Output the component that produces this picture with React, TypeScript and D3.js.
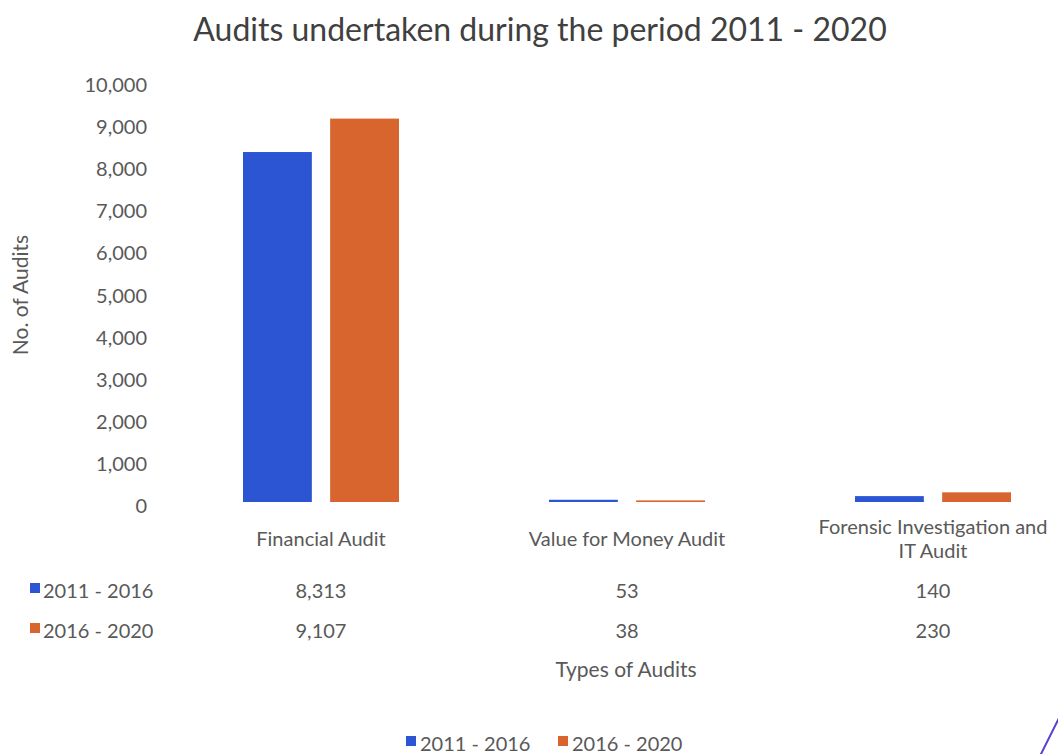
import React from "react";
import * as d3 from "d3";

const categories = ["Financial Audit", "Value for Money Audit", "Forensic Investigation and IT Audit"];
const categoryLines = [["Financial Audit"], ["Value for Money Audit"], ["Forensic Investigation and", "IT Audit"]];
const seriesNames = ["2011 - 2016", "2016 - 2020"];
const series2011 = [8313, 53, 140];
const series2016 = [9107, 38, 230];
const yTicks = [0, 1000, 2000, 3000, 4000, 5000, 6000, 7000, 8000, 9000, 10000];
const colors = ["#2c55d4", "#d9652e"];

const W = 1058;
const H = 754;
const FONT = "Lato, 'Open Sans', sans-serif";
const TEXT = "#595959";

export default function App() {
  const x = d3.scaleBand<string>().domain(categories).range([168, 1086]).paddingInner(0).paddingOuter(0);
  const x1 = d3.scaleBand<string>().domain(seriesNames).range([0, 156]).paddingInner(0.21).paddingOuter(0);
  const y = d3.scaleLinear().domain([0, 10000]).range([502, 81]);
  const fmt = d3.format(",");
  const allSeries = [series2011, series2016];
  const groupOffset = (x.bandwidth() - 156) / 2;

  return (
    <div style={{ position: "fixed", left: 0, top: 0, width: W, height: H, overflow: "hidden" }}>
      <svg width={W} height={H} style={{ display: "block", background: "#fff" }} fontFamily={FONT}>
        <text x={540} y={28} textAnchor="middle" dominantBaseline="central" fontSize={32} fill="#404040">
          Audits undertaken during the period 2011 - 2020
        </text>
        {yTicks.map((t) => (
          <text key={t} x={147} y={y(t) + 3} textAnchor="end" dominantBaseline="central" fontSize={20} fill={TEXT}>
            {fmt(t)}
          </text>
        ))}
        <text
          transform={`translate(19,295) rotate(-90)`}
          textAnchor="middle"
          dominantBaseline="central"
          fontSize={21}
          fill={TEXT}
        >
          No. of Audits
        </text>
        {categories.map((c, ci) =>
          allSeries.map((s, si) => (
            <rect
              key={c + si}
              x={(x(c) as number) + groupOffset + (x1(seriesNames[si]) as number)}
              y={y(s[ci])}
              width={x1.bandwidth()}
              height={y(0) - y(s[ci])}
              fill={colors[si]}
            />
          ))
        )}
        {categories.map((c, ci) => {
          const cx = (x(c) as number) + x.bandwidth() / 2;
          const lines = categoryLines[ci];
          const startY = lines.length === 1 ? 538 : 526;
          return lines.map((l, li) => (
            <text key={c + li} x={cx} y={startY + li * 24} textAnchor="middle" dominantBaseline="central" fontSize={20} fill={TEXT}>
              {l}
            </text>
          ));
        })}
        {seriesNames.map((n, si) => {
          const rowY = 590 + si * 40;
          return (
            <g key={n}>
              <rect x={30} y={rowY - 7} width={10} height={10} fill={colors[si]} />
              <text x={43} y={rowY} dominantBaseline="central" fontSize={20} fill={TEXT}>
                {n}
              </text>
              {categories.map((c, ci) => (
                <text
                  key={c}
                  x={(x(c) as number) + x.bandwidth() / 2}
                  y={rowY}
                  textAnchor="middle"
                  dominantBaseline="central"
                  fontSize={20}
                  fill={TEXT}
                >
                  {fmt(allSeries[si][ci])}
                </text>
              ))}
            </g>
          );
        })}
        <text x={626} y={668} textAnchor="middle" dominantBaseline="central" fontSize={21} fill={TEXT}>
          Types of Audits
        </text>
        {seriesNames.map((n, si) => {
          const lx = 406 + si * 152;
          return (
            <g key={"lg" + n}>
              <rect x={lx} y={736} width={10} height={10} fill={colors[si]} />
              <text x={lx + 14} y={743} dominantBaseline="central" fontSize={20} fill={TEXT}>
                {n}
              </text>
            </g>
          );
        })}
        <line x1={1040} y1={756} x2={1062} y2={712} stroke="#5b3fd0" strokeWidth={2} />
      </svg>
    </div>
  );
}
